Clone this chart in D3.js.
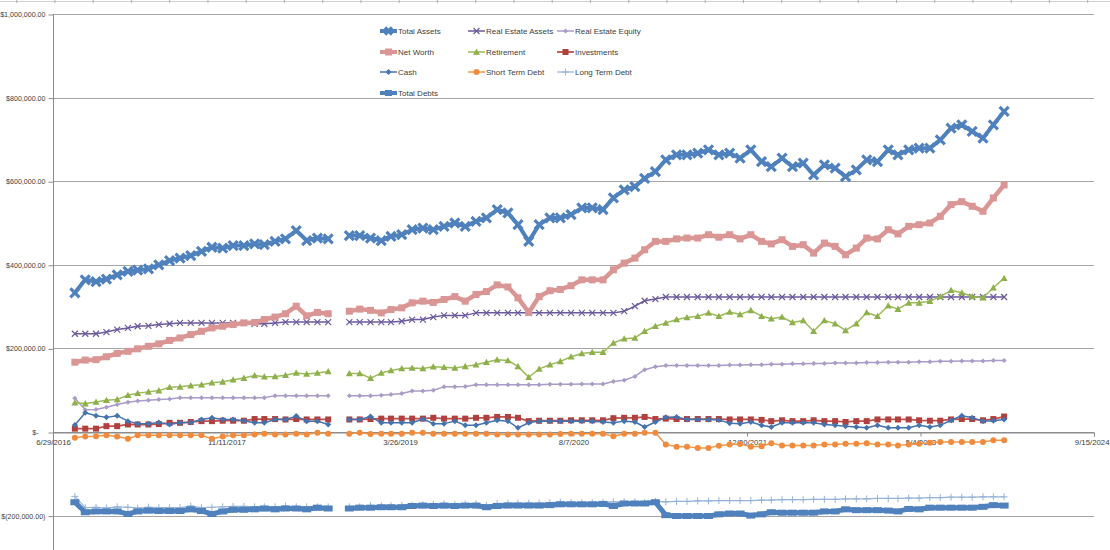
<!DOCTYPE html>
<html><head><meta charset="utf-8">
<script src="https://cdn.jsdelivr.net/npm/d3@7/dist/d3.min.js"></script>
<style>body{margin:0;background:#fff}svg{display:block}text{font-family:"Liberation Sans",Arial,sans-serif}</style>
</head><body>
<svg id="c" width="1110" height="550"></svg>
<script>
// monthly, end of month, Aug 2016 .. Dec 2023 (index 25 = Sep 2018 missing); values in $ thousands
const firstMonth = [2016, 7];
const monthCount = 89;
const totalAssets = [333,364,360,366,376,384,387,390,400,410,416,422,432,442,440,446,446,450,448,456,462,482,458,464,462,null,470,470,464,458,468,472,484,488,484,492,500,492,504,512,532,524,496,456,496,512,512,520,536,536,532,560,579,587,607,623,651,663,663,667,675,663,667,655,675,647,635,655,635,643,615,639,631,611,627,651,647,675,663,675,679,679,699,727,735,719,703,735,767];
const realEstateAssets = [235,235,235,239,245,249,253,254,257,259,261,261,261,261,261,261,261,259,259,261,263,263,263,263,263,null,263,263,263,263,263,265,269,269,275,279,279,279,285,285,285,285,285,285,285,285,285,285,285,285,285,285,289,301,314,318,323,323,323,323,323,323,323,323,323,323,323,323,323,323,323,323,323,323,323,323,323,323,323,323,323,323,323,323,323,323,323,323,323];
const realEstateEquity = [81,53,54,59,66,71,74,76,78,79,82,82,82,82,82,82,82,82,82,87,87,87,87,87,87,null,87,87,87,88,90,92,98,98,100,108,108,109,113,113,113,113,113,113,113,114,114,114,115,115,115,121,124,133,149,156,159,159,159,159,159,159,160,160,161,161,162,162,163,163,164,164,165,165,165,166,166,167,167,167,168,168,169,169,170,170,170,171,171];
const netWorth = [167,172,173,180,188,193,199,205,211,219,225,233,241,249,253,257,261,262,269,275,283,301,278,286,283,null,289,294,291,285,293,297,309,313,310,317,324,313,329,336,352,347,321,286,324,338,341,350,364,364,364,388,404,416,436,456,456,462,464,464,472,466,472,462,472,456,450,460,444,448,428,452,444,424,440,464,462,484,474,492,496,500,516,544,551,540,528,560,591];
const retirement = [70,68,72,76,78,88,93,96,99,107,108,111,113,118,120,125,129,135,132,133,136,141,139,141,145,null,140,140,129,141,147,152,153,152,156,155,153,157,161,167,173,171,157,131,151,161,169,180,188,191,191,213,223,225,241,253,261,269,274,277,285,277,287,281,291,277,271,275,262,267,241,267,259,243,259,286,277,302,294,309,309,313,324,339,333,324,321,345,368];
const investments = [8,8,8,14,14,18,18,18,19,22,22,24,26,26,27,27,27,31,31,31,30,31,30,30,30,null,30,30,31,32,32,32,32,32,34,32,32,32,34,34,36,36,34,26,27,27,27,28,28,28,28,33,34,34,36,31,32,31,31,31,31,31,30,30,30,29,26,28,26,26,28,26,26,24,26,26,30,30,30,30,28,27,27,30,31,31,28,31,37];
const cash = [17,46,39,35,39,26,20,20,23,18,22,23,30,34,30,30,27,22,22,30,30,38,26,26,18,null,30,30,37,22,22,22,22,31,20,20,26,16,16,22,28,26,10,22,26,26,26,26,26,26,24,22,26,24,12,24,35,36,30,30,30,29,21,20,24,16,12,22,22,22,22,18,16,14,12,10,16,10,10,10,16,12,16,28,39,34,26,27,30];
const shortTermDebt = [-14,-11,-10,-8,-11,-16,-8,-8,-8,-8,-8,-8,-8,-16,-11,-8,-8,-6,-4,-6,-6,-4,-6,-2,-4,null,-4,-2,-5,-4,-4,-4,-2,-2,-4,-4,-4,-4,-4,-4,-6,-6,-6,-6,-6,-6,-5,-4,-4,-4,-4,-10,-4,-4,-2,-2,-30,-35,-35,-38,-38,-33,-30,-29,-35,-34,-27,-32,-32,-32,-32,-30,-30,-28,-28,-27,-30,-30,-32,-30,-28,-26,-24,-24,-24,-24,-24,-20,-20];
const longTermDebt = [-154,-181,-180,-182,-179,-180,-182,-180,-181,-181,-181,-177,-181,-180,-179,-178,-178,-179,-179,-179,-177,-179,-179,-179,-179,null,-179,-179,-176,-176,-176,-176,-175,-174,-173,-172,-173,-172,-172,-176,-171,-170,-170,-170,-170,-169,-168,-169,-169,-169,-168,-167,-167,-167,-169,-166,-167,-166,-166,-165,-165,-164,-164,-164,-164,-163,-163,-162,-162,-162,-161,-161,-161,-160,-160,-160,-159,-159,-159,-158,-158,-157,-157,-156,-156,-156,-155,-155,-155];
const totalDebts = [-168,-192,-190,-190,-190,-196,-190,-188,-189,-189,-189,-185,-189,-196,-190,-186,-186,-185,-183,-185,-183,-183,-185,-181,-183,null,-183,-181,-181,-180,-180,-180,-177,-176,-177,-176,-177,-176,-176,-180,-177,-176,-176,-176,-176,-175,-173,-173,-173,-173,-172,-177,-171,-171,-171,-168,-199,-201,-201,-201,-201,-197,-195,-195,-200,-197,-192,-193,-193,-193,-193,-190,-190,-185,-187,-187,-187,-188,-190,-184,-185,-181,-181,-181,-181,-181,-179,-175,-176];

const seriesNames = ["Total Assets","Real Estate Assets","Real Estate Equity","Net Worth","Retirement","Investments","Cash","Short Term Debt","Long Term Debt","Total Debts"];
const seriesValues = [totalAssets,realEstateAssets,realEstateEquity,netWorth,retirement,investments,cash,shortTermDebt,longTermDebt,totalDebts];
const xTickLabels = ["2016-06-29","2017-11-11","2019-03-26","2020-08-07","2021-12-20","2023-05-04","2024-09-15"];
const yTickValues = [1000000,800000,600000,400000,200000,0,-200000];

// styles
const styles = [
  {color:"#4F81BD", width:4,   marker:"bigx",    mcolor:"#4F81BD", size:9},
  {color:"#6A5A9C", width:1.5, marker:"x",       mcolor:"#6A5A9C", size:6},
  {color:"#A99CC6", width:1.5, marker:"diamond", mcolor:"#A99CC6", size:5},
  {color:"#D99694", width:4.5, marker:"square",  mcolor:"#D99694", size:7},
  {color:"#9BBB59", width:1.5, marker:"triangle",mcolor:"#8DB04A", size:7},
  {color:"#C0504D", width:1.8, marker:"square",  mcolor:"#B0403D", size:6},
  {color:"#4473AE", width:1.5, marker:"diamond", mcolor:"#4473AE", size:6},
  {color:"#F79646", width:1.5, marker:"circle",  mcolor:"#F08A3C", size:6},
  {color:"#95B3D7", width:1.2, marker:"plus",    mcolor:"#95B3D7", size:7},
  {color:"#4F81BD", width:5,   marker:"dash",    mcolor:"#4F81BD", size:9}
];

const svg = d3.select("#c");
const parse = d3.utcParse("%Y-%m-%d");
const fmt = d3.utcFormat("%-m/%-d/%Y");
const x = d3.scaleUtc().domain([parse("2016-06-29"), parse("2024-09-15")]).range([53, 1094]);
const y = d3.scaleLinear().domain([-400000, 1000000]).range([14 + 7*83.6, 14]);

const dates = d3.range(monthCount).map(i => new Date(Date.UTC(firstMonth[0], firstMonth[1] + i + 1, 0)));

// decorative top border with ticks
const topBorder = svg.append("g");
topBorder.append("line").attr("x1",0).attr("x2",1110).attr("y1",1.5).attr("y2",1.5).attr("stroke","#d0d0d0");
d3.range(16.7, 1110, 38.25).forEach(t => topBorder.append("line").attr("x1",t).attr("x2",t).attr("y1",0).attr("y2",3).attr("stroke","#b0b0b0"));

// gridlines
const grid = svg.append("g");
yTickValues.forEach(v => {
  grid.append("line").attr("x1",53).attr("x2",1094).attr("y1",Math.round(y(v))+0.5).attr("y2",Math.round(y(v))+0.5)
    .attr("stroke", v===0 ? "#8c8c8c" : "#a6a6a6").attr("stroke-width",1);
});

// y axis
const yAxis = d3.axisLeft(y).tickValues(yTickValues).tickSize(5)
  .tickFormat(v => v===0 ? "$-" : v<0 ? "$(" + d3.format(",.2f")(-v) + ")" : "$" + d3.format(",.2f")(v));
const ya = svg.append("g").attr("transform","translate(53.5,0)").call(yAxis);
ya.select(".domain").attr("d","M0,14V550").attr("stroke","#8c8c8c");
ya.selectAll(".tick line").attr("stroke","#8c8c8c").attr("transform","translate(0,0.5)");
ya.selectAll(".tick text").attr("font-size","7.1px").attr("fill","#404040").attr("x",-8).attr("dy","0.35em");
ya.selectAll(".tick text").filter(v => v===0).attr("x",-15);

// x axis at zero
const xAxis = d3.axisBottom(x).tickValues(xTickLabels.map(parse)).tickFormat(fmt).tickSize(4);
const xa = svg.append("g").attr("transform", `translate(0,${Math.round(y(0))+0.5})`).call(xAxis);
xa.select(".domain").attr("stroke","#8c8c8c");
xa.selectAll(".tick line").attr("stroke","#8c8c8c");
xa.selectAll(".tick text").attr("font-size","7.8px").attr("fill","#404040").attr("y",7);
xa.selectAll(".tick text").filter((d,i,n) => i === n.length-1).attr("text-anchor","end").attr("dx","15");

// marker drawing
function drawMarker(g, type, cx, cy, s, c) {
  const h = s/2;
  switch(type) {
    case "bigx":
      g.append("path").attr("d",`M${cx-h},${cy-h}L${cx+h},${cy+h}M${cx+h},${cy-h}L${cx-h},${cy+h}`).attr("stroke",c).attr("stroke-width",3.2).attr("fill","none");
      break;
    case "x":
      g.append("path").attr("d",`M${cx-h},${cy-h}L${cx+h},${cy+h}M${cx+h},${cy-h}L${cx-h},${cy+h}`).attr("stroke",c).attr("stroke-width",1.2).attr("fill","none");
      break;
    case "plus":
      g.append("path").attr("d",`M${cx},${cy-h}L${cx},${cy+h}M${cx-h},${cy}L${cx+h},${cy}`).attr("stroke",c).attr("stroke-width",1).attr("fill","none");
      break;
    case "diamond":
      g.append("path").attr("d",`M${cx},${cy-h}L${cx+h},${cy}L${cx},${cy+h}L${cx-h},${cy}Z`).attr("fill",c);
      break;
    case "square":
      g.append("rect").attr("x",cx-h).attr("y",cy-h).attr("width",s).attr("height",s).attr("fill",c);
      break;
    case "triangle":
      g.append("path").attr("d",`M${cx},${cy-h}L${cx+h},${cy+h*0.8}L${cx-h},${cy+h*0.8}Z`).attr("fill",c);
      break;
    case "circle":
      g.append("circle").attr("cx",cx).attr("cy",cy).attr("r",h).attr("fill",c);
      break;
    case "dash":
      g.append("rect").attr("x",cx-h).attr("y",cy-3).attr("width",s).attr("height",6).attr("fill",c);
      break;
  }
}

// series
const plot = svg.append("g");
seriesValues.forEach((vals, si) => {
  const st = styles[si];
  const data = vals.map((v,i) => ({date: dates[i], v}));
  const line = d3.line().defined(d => d.v != null).x(d => x(d.date)).y(d => y(d.v*1000));
  const g = plot.append("g");
  g.append("path").datum(data).attr("d", line).attr("fill","none").attr("stroke",st.color)
    .attr("stroke-width",st.width).attr("stroke-linejoin","round").attr("stroke-linecap","round");
  data.filter(d => d.v != null).forEach(d => drawMarker(g, st.marker, x(d.date), y(d.v*1000), st.size, st.mcolor));
});

// legend
const legCols = [380, 468, 557];
const legRows = [31, 52, 72, 93];
const leg = svg.append("g");
seriesNames.forEach((name, i) => {
  const lx = legCols[i % 3], ly = legRows[Math.floor(i/3)];
  const st = styles[i];
  leg.append("line").attr("x1",lx).attr("x2",lx+17).attr("y1",ly).attr("y2",ly).attr("stroke",st.color).attr("stroke-width",Math.min(st.width,4));
  drawMarker(leg, st.marker, lx+8.5, ly, Math.min(st.size,7), st.mcolor);
  leg.append("text").attr("x",lx+18).attr("y",ly+3).attr("font-size","8px").attr("fill","#404040").text(name);
});
</script>
</body></html>
